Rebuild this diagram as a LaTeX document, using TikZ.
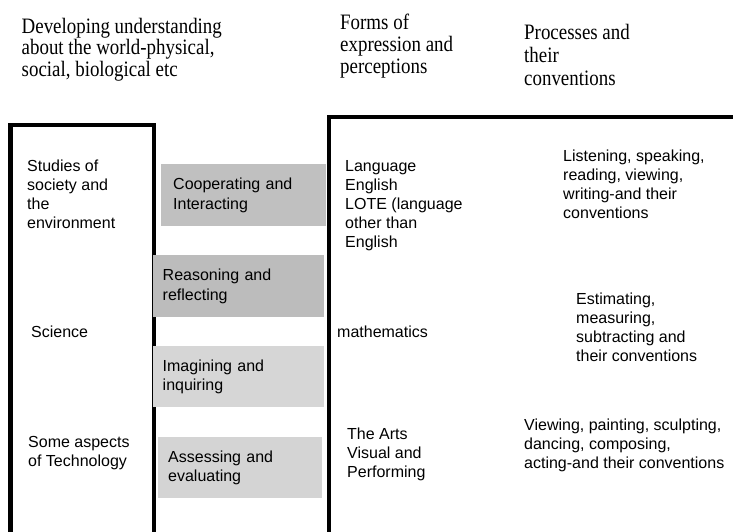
\documentclass[tikz,border=0pt]{standalone}
\usepackage{fontspec}
\setmainfont{Liberation Sans}
\newfontfamily\hdrfont[FakeStretch=0.86]{Liberation Serif}
\definecolor{gA}{RGB}{192,192,192}
\definecolor{gB}{RGB}{188,188,188}
\definecolor{gC}{RGB}{214,214,214}
\definecolor{gD}{RGB}{212,212,212}
\begin{document}
\begin{tikzpicture}[x=1pt,y=-1pt,
  hdr/.style={anchor=base west, inner sep=0pt, align=left, font=\hdrfont\fontsize{22}{#1}\selectfont},
  body/.style={anchor=base west, inner sep=0pt, align=left, font=\fontsize{16}{19}\selectfont},
  frame/.style={line width=4.3pt, line join=miter},
  gbox/.style={anchor=north west, inner ysep=0pt, align=left, font=\fontsize{16}{19.5}\selectfont, fill=#1}
]
\useasboundingbox (0,0) rectangle (733,531);
\clip (0,0) rectangle (733,531);
% headers (anchored at the baseline of the last line)
\node[hdr=20] (h1) at (21.5,76) {Developing understanding\\about the world-physical,\\social, biological etc};
\node[hdr=22] (h2) at (340,73) {Forms of\\expression and\\perceptions};
\node[hdr=23] (h3) at (524,85) {Processes and\\their\\conventions};
% frames
\draw[frame] (10.5,545) -- (10.5,125) -- (153.7,125) -- (153.7,545);
\draw[frame] (329,545) -- (329,117) -- (745,117);
% grey boxes
\node[gbox=gA, inner xsep=12pt, text width=141pt, minimum height=62pt] (coop) at (161,164) {Cooperating and\\Interacting};
\node[gbox=gB, inner xsep=10pt, text width=151.5pt, minimum height=62pt] (reas) at (152.5,255) {Reasoning and\\reflecting};
\node[gbox=gC, inner xsep=10pt, text width=151.5pt, minimum height=61pt] (imag) at (152.5,346) {Imagining and\\inquiring};
\node[gbox=gD, inner xsep=10pt, text width=144pt, minimum height=61pt] (asse) at (158,437) {Assessing and\\evaluating};
% left column
\node[body] (sos) at (27,228) {Studies of\\society and\\the\\environment};
\node[body] (sci) at (31,337) {Science};
\node[body] (tec) at (28,466) {Some aspects\\of Technology};
% middle column
\node[body] (lan) at (345,247) {Language\\English\\LOTE (language\\other than\\English};
\node[body] (mat) at (337,337) {mathematics};
\node[body] (art) at (347,477) {The Arts\\Visual and\\Performing};
% right column
\node[body] (lis) at (563,218) {Listening, speaking,\\reading, viewing,\\writing-and their\\conventions};
\node[body] (est) at (576,361) {Estimating,\\measuring,\\subtracting and\\their conventions};
\node[body] (vie) at (524,468) {Viewing, painting, sculpting,\\dancing, composing,\\acting-and their conventions};
\end{tikzpicture}
\end{document}
